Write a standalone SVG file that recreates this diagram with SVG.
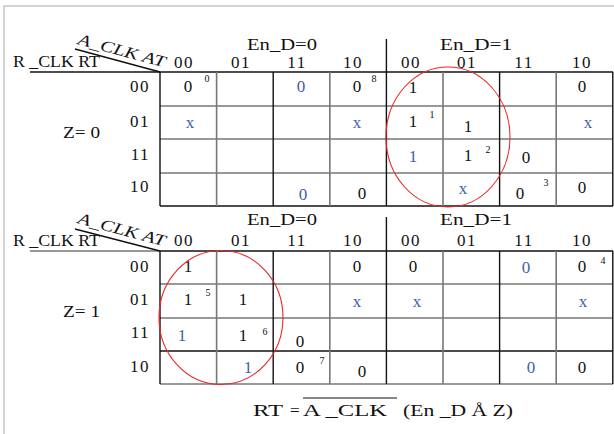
<svg xmlns="http://www.w3.org/2000/svg" width="614" height="434" viewBox="0 0 614 434" font-family="'Liberation Serif', 'DejaVu Serif', serif">
<style>
text{font-family:"Liberation Serif","Times New Roman","DejaVu Serif",serif;font-size:17px;fill:#111}
.c{text-anchor:middle}
.e{text-anchor:end}
.b{fill:#3f5fae}
.s{font-size:10px}
.h{font-size:16px}
.k{stroke:#111;stroke-width:1.4;fill:none}
.g{stroke:#777;stroke-width:1.6;fill:none}
.ring{stroke:#e8282b;stroke-width:1.1;fill:none}
</style>
<rect x="0" y="0" width="614" height="434" fill="#fff"/>
<rect x="4" y="6" width="700" height="700" fill="none" stroke="#c8c8c8" stroke-width="1.6"/>

<g id="map-top">
  <g id="top-grid">
    <line class="k" x1="30" y1="72" x2="613" y2="72"/>
    <line class="g" x1="160" y1="106" x2="613" y2="106"/>
    <line class="g" x1="160" y1="139" x2="613" y2="139"/>
    <line class="g" x1="160" y1="173" x2="613" y2="173"/>
    <line class="k" x1="160" y1="206" x2="613" y2="206"/>
    <line class="k" x1="160" y1="72" x2="160" y2="206"/>
    <line class="g" x1="216.6" y1="72" x2="216.6" y2="206"/>
    <line class="k" x1="273.2" y1="72" x2="273.2" y2="206"/>
    <line class="g" x1="329.8" y1="72" x2="329.8" y2="206"/>
    <line class="k" x1="386.4" y1="39" x2="386.4" y2="206"/>
    <line class="g" x1="443" y1="72" x2="443" y2="206"/>
    <line class="k" x1="499.6" y1="72" x2="499.6" y2="206"/>
    <line class="g" x1="556.2" y1="72" x2="556.2" y2="206"/>
    <line class="k" x1="612.8" y1="72" x2="612.8" y2="206"/>
    <line class="k" x1="75" y1="49" x2="160" y2="72"/>
  </g>
  <g id="top-labels">
    <text x="13" y="67" textLength="87" lengthAdjust="spacingAndGlyphs">R _CLK RT</text>
    <text class="h" transform="translate(77,44) rotate(15)" font-style="italic" textLength="90" lengthAdjust="spacingAndGlyphs">A_CLK AT</text>
    <text class="h" x="247" y="50" textLength="70" lengthAdjust="spacingAndGlyphs">En_D=0</text>
    <text class="h" x="440" y="50" textLength="72" lengthAdjust="spacingAndGlyphs">En_D=1</text>
    <text class="c" x="184" y="68" letter-spacing="1.5">00</text>
    <text class="c" x="241" y="68" letter-spacing="1.5">01</text>
    <text class="c" x="297" y="68" letter-spacing="1.5">11</text>
    <text class="c" x="353" y="68" letter-spacing="1.5">10</text>
    <text class="c" x="411" y="68" letter-spacing="1.5">00</text>
    <text class="c" x="467" y="68" letter-spacing="1.5">01</text>
    <text class="c" x="524" y="68" letter-spacing="1.5">11</text>
    <text class="c" x="582" y="68" letter-spacing="1.5">10</text>
    <text class="e" x="150" y="92" letter-spacing="1.5">00</text>
    <text class="e" x="150" y="127" letter-spacing="1.5">01</text>
    <text class="e" x="150" y="160" letter-spacing="1.5">11</text>
    <text class="e" x="150" y="192" letter-spacing="1.5">10</text>
    <text x="63" y="138" textLength="37" lengthAdjust="spacingAndGlyphs">Z= 0</text>
  </g>
  <g id="top-cells">
    <text class="c" x="188" y="92">0</text><text class="c s" x="207" y="82">0</text>
    <text class="c b" x="301" y="92">0</text>
    <text class="c" x="357" y="92">0</text><text class="c s" x="374" y="82">8</text>
    <text class="c" x="413" y="93">1</text>
    <text class="c" x="582" y="92">0</text>
    <text class="c b" x="190" y="128">x</text>
    <text class="c b" x="357" y="128">x</text>
    <text class="c" x="413" y="127">1</text><text class="c s" x="432" y="118">1</text>
    <text class="c" x="468" y="132">1</text>
    <text class="c b" x="588" y="128">x</text>
    <text class="c b" x="413" y="162">1</text>
    <text class="c" x="468" y="161">1</text><text class="c s" x="488" y="153">2</text>
    <text class="c" x="526" y="163">0</text>
    <text class="c b" x="303" y="200">0</text>
    <text class="c" x="362" y="199">0</text>
    <text class="c b" x="463" y="194">x</text>
    <text class="c" x="520" y="199">0</text><text class="c s" x="546" y="186">3</text>
    <text class="c" x="582" y="193">0</text>
  </g>
  <ellipse id="top-group" class="ring" cx="448" cy="137" rx="62" ry="70"/>
</g>

<g id="map-bottom">
  <g id="bottom-grid">
    <line class="g" x1="30" y1="251" x2="160" y2="251"/>
    <line class="k" x1="160" y1="251" x2="613" y2="251"/>
    <line class="g" x1="160" y1="284" x2="613" y2="284"/>
    <line class="g" x1="160" y1="318" x2="613" y2="318"/>
    <line class="k" x1="160" y1="351" x2="613" y2="351"/>
    <line class="g" x1="160" y1="384" x2="613" y2="384"/>
    <line class="k" x1="160" y1="251" x2="160" y2="384"/>
    <line class="g" x1="216.6" y1="251" x2="216.6" y2="384"/>
    <line class="k" x1="273.2" y1="251" x2="273.2" y2="384"/>
    <line class="g" x1="329.8" y1="251" x2="329.8" y2="384"/>
    <line class="k" x1="386.4" y1="217" x2="386.4" y2="384"/>
    <line class="g" x1="443" y1="251" x2="443" y2="384"/>
    <line class="k" x1="499.6" y1="251" x2="499.6" y2="384"/>
    <line class="g" x1="556.2" y1="251" x2="556.2" y2="384"/>
    <line class="k" x1="612.8" y1="251" x2="612.8" y2="384"/>
    <line class="k" x1="75" y1="229" x2="160" y2="251"/>
  </g>
  <g id="bottom-labels">
    <text x="13" y="246" textLength="87" lengthAdjust="spacingAndGlyphs">R _CLK RT</text>
    <text class="h" transform="translate(77,223) rotate(15)" font-style="italic" textLength="90" lengthAdjust="spacingAndGlyphs">A_CLK AT</text>
    <text class="h" x="247" y="225" textLength="70" lengthAdjust="spacingAndGlyphs">En_D=0</text>
    <text class="h" x="440" y="225" textLength="72" lengthAdjust="spacingAndGlyphs">En_D=1</text>
    <text class="c" x="184" y="246" letter-spacing="1.5">00</text>
    <text class="c" x="241" y="246" letter-spacing="1.5">01</text>
    <text class="c" x="297" y="246" letter-spacing="1.5">11</text>
    <text class="c" x="353" y="246" letter-spacing="1.5">10</text>
    <text class="c" x="411" y="246" letter-spacing="1.5">00</text>
    <text class="c" x="467" y="246" letter-spacing="1.5">01</text>
    <text class="c" x="524" y="246" letter-spacing="1.5">11</text>
    <text class="c" x="582" y="246" letter-spacing="1.5">10</text>
    <text class="e" x="150" y="272" letter-spacing="1.5">00</text>
    <text class="e" x="150" y="305" letter-spacing="1.5">01</text>
    <text class="e" x="150" y="338" letter-spacing="1.5">11</text>
    <text class="e" x="150" y="372" letter-spacing="1.5">10</text>
    <text x="63" y="317" textLength="37" lengthAdjust="spacingAndGlyphs">Z= 1</text>
  </g>
  <g id="bottom-cells">
    <text class="c" x="188" y="272">1</text>
    <text class="c" x="357" y="272">0</text>
    <text class="c" x="413" y="272">0</text>
    <text class="c b" x="526" y="273">0</text>
    <text class="c" x="582" y="272">0</text><text class="c s" x="603" y="264">4</text>
    <text class="c" x="188" y="305">1</text><text class="c s" x="208" y="296">5</text>
    <text class="c" x="243" y="305">1</text>
    <text class="c b" x="357" y="307">x</text>
    <text class="c b" x="417" y="307">x</text>
    <text class="c b" x="583" y="307">x</text>
    <text class="c b" x="182" y="341">1</text>
    <text class="c" x="243" y="341">1</text><text class="c s" x="265" y="335">6</text>
    <text class="c" x="300" y="347">0</text>
    <text class="c b" x="248" y="373">1</text>
    <text class="c" x="300" y="373">0</text><text class="c s" x="322" y="364">7</text>
    <text class="c" x="362" y="377">0</text>
    <text class="c b" x="531" y="373">0</text>
    <text class="c" x="582" y="373">0</text>
  </g>
  <ellipse id="bottom-group" class="ring" cx="221" cy="317.5" rx="62" ry="67"/>
</g>

<g id="equation">
  <text x="253" y="416" textLength="30" lengthAdjust="spacingAndGlyphs">RT</text>
  <text x="290" y="416">=</text>
  <text x="303" y="416" textLength="84" lengthAdjust="spacingAndGlyphs">A _CLK</text>
  <line x1="303" y1="398" x2="397" y2="398" stroke="#111" stroke-width="1"/>
  <text x="403" y="416" textLength="110" lengthAdjust="spacingAndGlyphs">(En _D Å Z)</text>
</g>
</svg>
